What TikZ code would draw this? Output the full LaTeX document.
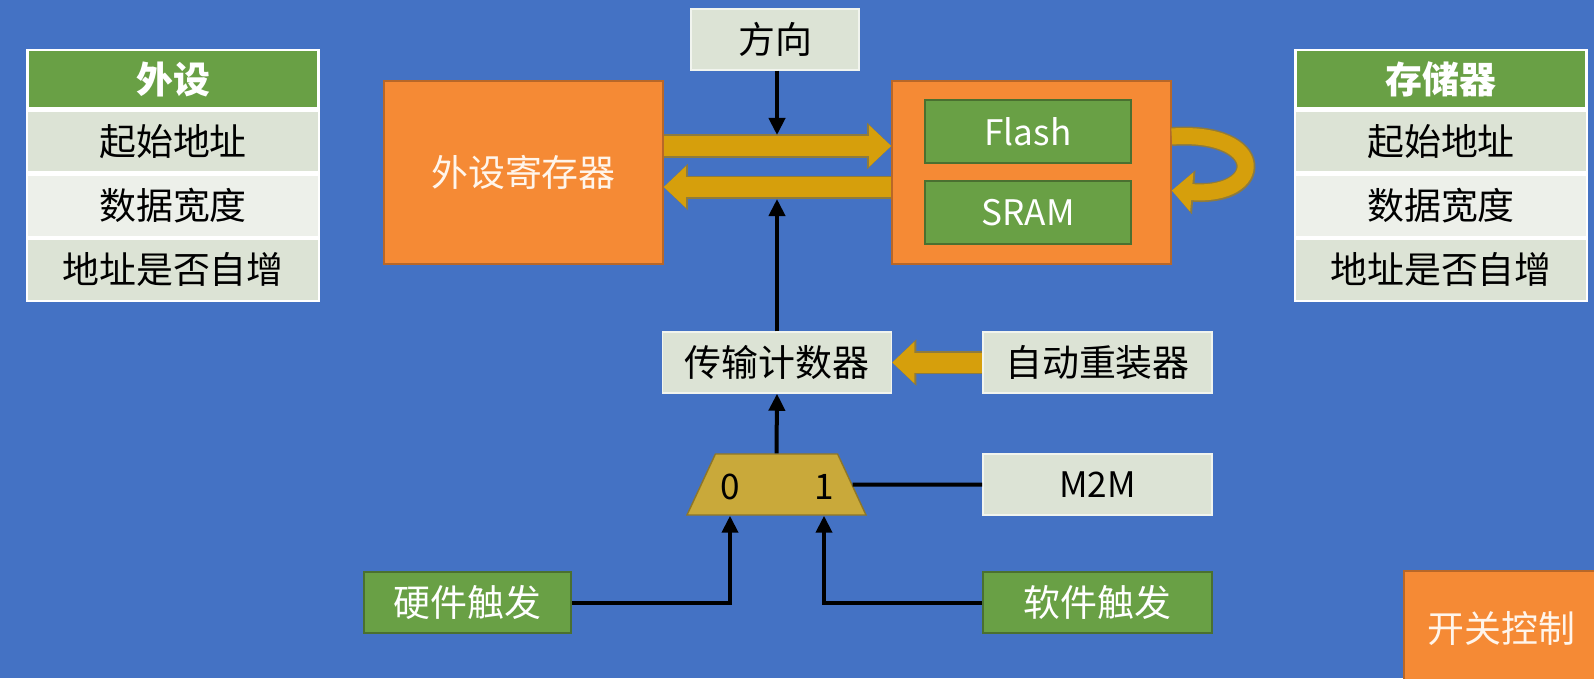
\documentclass[tikz,border=0pt]{standalone}
\usepackage{fontspec}
\setmainfont{Noto Sans CJK SC}
\usepackage{tikz}
\usetikzlibrary{arrows.meta,positioning,shapes.geometric}
\definecolor{dmaBlue}{HTML}{4472C4}
\definecolor{dmaOrange}{HTML}{F58A35}
\definecolor{dmaGreen}{HTML}{69A045}
\definecolor{dmaLight}{HTML}{DCE3D5}
\definecolor{dmaPale}{HTML}{EDF0EA}
\definecolor{dmaBus}{HTML}{D69F0C}
\definecolor{dmaBusEdge}{HTML}{8E7B3E}
\definecolor{dmaMux}{HTML}{C9A93A}

\begin{document}
\begin{tikzpicture}[x=0.01cm,y=-0.01cm,font=\fontsize{10.5pt}{12pt}\selectfont,
  lbox/.style={draw=white!60!dmaLight,fill=dmaLight,minimum width=2.29cm,
               minimum height=0.61cm,inner sep=0pt},
  gbox/.style={draw=dmaGreen!70!black,fill=dmaGreen,text=white,
               minimum width=2.07cm,minimum height=0.61cm,inner sep=0pt},
  obox/.style={draw=dmaOrange!75!black,fill=dmaOrange,text=white!92!orange,
               inner sep=0pt},
  thead/.style={fill=dmaGreen,draw=white,line width=0.8pt,text=white,
                font=\fontsize{10.5pt}{12pt}\selectfont\bfseries,
                minimum width=2.91cm,minimum height=0.58cm,inner sep=0pt},
  trow/.style={draw=white,line width=0.6pt,minimum width=2.91cm,
               minimum height=0.62cm,inner sep=0pt},
  latin/.style={font=\fontsize{10pt}{12pt}\selectfont},
  sig/.style={line width=0.04cm,-{Triangle[length=0.17cm,width=0.16cm]}},
  bus/.style={draw=dmaBus,line width=0.2cm,-{Triangle[length=0.22cm,width=0.4cm]},
              preaction={draw=dmaBusEdge,line width=0.23cm,
                         -{Triangle[length=0.24cm,width=0.45cm]}}},
  loopbus/.style={draw=dmaBus,line width=0.16cm,-{Triangle[length=0.2cm,width=0.38cm]},
              preaction={draw=dmaBusEdge,line width=0.19cm,
                         -{Triangle[length=0.22cm,width=0.43cm]}}}]

  \path[use as bounding box,fill=dmaBlue] (0,0) rectangle (1594,678);

  % left and right attribute tables
  \node[thead] (per) at (173,79) {外设};
  \node[trow,fill=dmaLight,below=0pt of per] (per1) {起始地址};
  \node[trow,fill=dmaPale,below=0pt of per1] (per2) {数据宽度};
  \node[trow,fill=dmaLight,below=0pt of per2] (per3) {地址是否自增};

  \node[thead] (memt) at (1441,79) {存储器};
  \node[trow,fill=dmaLight,below=0pt of memt] (memt1) {起始地址};
  \node[trow,fill=dmaPale,below=0pt of memt1] (memt2) {数据宽度};
  \node[trow,fill=dmaLight,below=0pt of memt2] (memt3) {地址是否自增};

  % data path
  \node[lbox,minimum width=1.68cm] (dir) at (775,39.5) {方向};
  \node[obox,minimum width=2.79cm,minimum height=1.83cm] (reg) at (523.5,172.5) {外设寄存器};
  \node[obox,minimum width=2.79cm,minimum height=1.83cm] (mem) at (1031.5,172.5) {};
  \node[gbox,latin,minimum width=2.06cm,minimum height=0.63cm] (flash) at (1028,131.5) {Flash};
  \node[gbox,latin,minimum width=2.06cm,minimum height=0.63cm] (sram) at (1028,212.5) {SRAM};

  \node[lbox] (cnt) at (777,362.5) {传输计数器};
  \node[lbox] (reload) at (1097.5,362.5) {自动重装器};
  \node[lbox,latin] (m2m) at (1097.5,484.5) {M2M};

  \node[trapezium,trapezium angle=79,trapezium stretches=true,fill=dmaMux,
        draw=dmaMux!70!black,minimum width=1.79cm,minimum height=0.61cm,
        inner sep=2pt] (mux) at (776.5,484.5) {\phantom{0}};
  \node[latin] (sel0) at (730,487) {0};
  \node[latin] (sel1) at (824,487) {1};

  \node[gbox] (hw) at (467.5,602.5) {硬件触发};
  \node[gbox,minimum width=2.29cm] (sw) at (1097.5,602.5) {软件触发};
  \node[obox,minimum width=1.95cm,minimum height=1.15cm] (en) at (1501.5,628.5) {开关控制};

  % connectors
  \draw[bus] ([yshift=0.265cm]reg.east) -- ([yshift=0.265cm]mem.west);
  \draw[bus] ([yshift=-0.145cm]mem.west) -- ([yshift=-0.145cm]reg.east);
  \draw[bus] (reload.west) -- (cnt.east);
  \draw[loopbus] ([yshift=0.36cm]mem.east) .. controls (1268,130) and (1266,198)
                 .. ([yshift=-0.18cm]mem.east);

  \coordinate (dirend) at (777,135);
  \coordinate (cntend) at (777,199);
  \draw[sig] (dir.south -| dirend) -- (dirend);
  \draw[sig] (cnt.north) -- (cntend);
  \draw[sig] (mux.north) -- (cnt.south);
  \draw[line width=0.04cm] (m2m.west) -- (mux.east);
  \draw[sig] (hw.east) -| (sel0 |- mux.south);
  \draw[sig] (sw.west) -| (sel1 |- mux.south);
\end{tikzpicture}
\end{document}
